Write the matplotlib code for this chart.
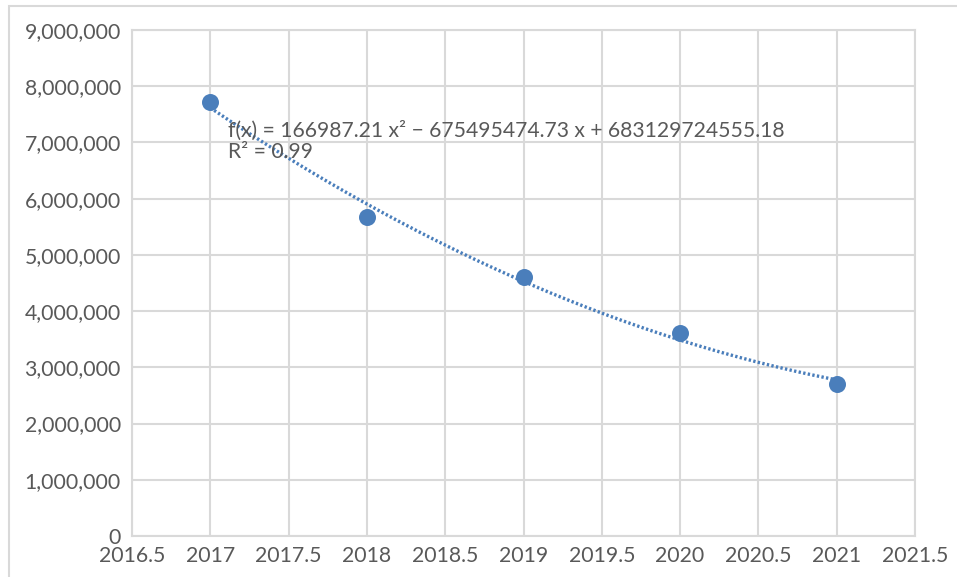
import matplotlib
matplotlib.use('Agg')
import matplotlib.pyplot as plt
import numpy as np
from matplotlib.patches import Rectangle
from matplotlib.ticker import FuncFormatter, MultipleLocator

plt.rcParams['font.family'] = ['Lato', 'DejaVu Sans']

# data
years = [2017, 2018, 2019, 2020, 2021]
values = [7720000, 5670000, 4610000, 3610000, 2700000]
eq_text = 'f(x) = 166987.21 x² − 675495474.73 x + 683129724555.18\nR² = 0.99'

blue = '#4a7ebb'
grid = '#d9d9d9'
txt = '#595959'

W, H = 957, 577
fig = plt.figure(figsize=(W / 100, H / 100), dpi=100)

# outer chart frame
fig.patches.append(Rectangle((9 / W, -0.1), 1.1, 1 - 6 / H + 0.1, transform=fig.transFigure,
                             fill=False, edgecolor=grid, lw=1.5))

ax = fig.add_axes([132 / W, (H - 536) / H, (915 - 132) / W, (536 - 30) / H])

# polynomial trendline (order 2), fit on centred x
x = np.array(years, dtype=float)
y = np.array(values, dtype=float)
c = np.polyfit(x - 2019, y, 2)
xs = np.linspace(2017, 2021, 200)
ax.plot(xs, np.polyval(c, xs - 2019), color=blue, lw=2.4, linestyle=(0, (0.7, 0.7)), zorder=3)

ax.scatter(years, values, s=150, color=blue, zorder=4, linewidths=0)

ax.text(2017.11, 7020000, eq_text, fontsize=15.2, color=txt, va='center', ha='left',
        linespacing=1.07, zorder=5)

ax.set_xlim(2016.5, 2021.5)
ax.set_ylim(0, 9000000)
ax.xaxis.set_major_locator(MultipleLocator(0.5))
ax.yaxis.set_major_locator(MultipleLocator(1000000))
ax.xaxis.set_major_formatter(FuncFormatter(lambda v, p: ('%g' % v)))
ax.yaxis.set_major_formatter(FuncFormatter(lambda v, p: '{:,.0f}'.format(v)))
ax.grid(True, color=grid, lw=1.5)
ax.set_axisbelow(True)
for s in ax.spines.values():
    s.set_color(grid)
    s.set_linewidth(1.5)
ax.tick_params(length=0, labelsize=15.3, colors=txt)
ax.tick_params(axis='y', pad=8)
ax.tick_params(axis='x', pad=7)

fig.savefig('out.png', dpi=100)
